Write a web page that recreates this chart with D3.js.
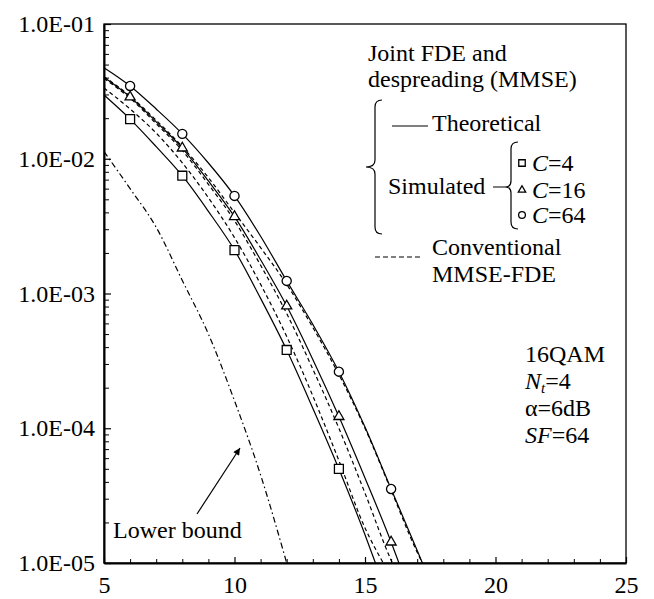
<!doctype html>
<html>
<head>
<meta charset="utf-8">
<title>BER vs average Eb/N0</title>
<script src="https://d3js.org/d3.v7.min.js"></script>
<style>
  body { margin: 0; background: #fff; }
  svg text { font-family: "Liberation Serif", "Times New Roman", serif; font-size: 24px; fill: #000; }
  .curve { fill: none; stroke: #000; stroke-width: 1.2; }
  .mark { fill: #fff; stroke: #000; stroke-width: 1.3; }
</style>
</head>
<body>
<svg width="654" height="599"></svg>
<script>
// ---- data ----
var xTicks = [5, 10, 15, 20, 25];
var yTicks = [1e-5, 1e-4, 1e-3, 1e-2, 1e-1];
var yTickLabels = ["1.0E-05", "1.0E-04", "1.0E-03", "1.0E-02", "1.0E-01"];

// joint FDE and despreading, theoretical (solid)
var theoryC64X = [5, 6, 7, 8, 9, 10, 11, 12, 13, 14, 15, 16, 17, 17.2];
var theoryC64Y = [0.0474, 0.0347, 0.0234, 0.0153, 0.0093, 0.0053, 0.00266, 0.00124, 5.9e-4, 2.63e-4, 1.02e-4, 3.54e-5, 1.24e-5, 1e-5];
var theoryC16X = [5, 6, 7, 8, 9, 10, 11, 12, 13, 14, 15, 16, 16.3];
var theoryC16Y = [0.0402, 0.0287, 0.0188, 0.0120, 0.00684, 0.00372, 0.00178, 8.07e-4, 3.24e-4, 1.22e-4, 4.27e-5, 1.43e-5, 1e-5];
var theoryC4X = [5, 6, 7, 8, 9, 10, 11, 12, 13, 14, 15, 15.4];
var theoryC4Y = [0.0297, 0.0197, 0.0123, 0.00748, 0.00407, 0.0021, 9.2e-4, 3.81e-4, 1.41e-4, 4.99e-5, 1.62e-5, 1e-5];

// simulated (markers)
var simC4X = [6, 8, 10, 12, 14];
var simC4Y = [0.0197, 0.00748, 0.0021, 3.81e-4, 4.99e-5];
var simC16X = [6, 8, 10, 12, 14, 16];
var simC16Y = [0.0287, 0.0120, 0.00372, 8.07e-4, 1.22e-4, 1.43e-5];
var simC64X = [6, 8, 10, 12, 14, 16];
var simC64Y = [0.0347, 0.0153, 0.0053, 0.00124, 2.63e-4, 3.54e-5];

// conventional MMSE-FDE (dashed)
var convC4X = [5, 6, 7, 8, 9, 10, 11, 12, 13, 14, 15, 15.7];
var convC4Y = [0.0335, 0.0234, 0.0155, 0.00933, 0.00513, 0.0026, 0.00117, 4.8e-4, 1.74e-4, 5.75e-5, 1.82e-5, 1e-5];
var convC16X = [5, 6, 7, 8, 9, 10, 11, 12, 13, 14, 15, 16, 16.05];
var convC16Y = [0.0395, 0.0281, 0.0182, 0.0115, 0.00646, 0.00347, 0.00162, 7.1e-4, 2.75e-4, 1.0e-4, 3.3e-5, 1.05e-5, 1e-5];
var convC64X = [5, 6, 7, 8, 9, 10, 11, 12, 13, 14, 15, 16, 17, 17.2];
var convC64Y = [0.0407, 0.0292, 0.0193, 0.0123, 0.00724, 0.00398, 0.00219, 0.00117, 5.6e-4, 2.5e-4, 1.0e-4, 3.47e-5, 1.2e-5, 1e-5];

// lower bound (dash-dot)
var lowerX = [5, 6, 7, 8, 9, 10, 11, 12];
var lowerY = [0.0113, 0.0060, 0.0031, 0.00125, 5.0e-4, 1.6e-4, 4.5e-5, 1.0e-5];

// ---- chart ----
var svg = d3.select("svg"),
    margin = {top: 24, right: 28, bottom: 36, left: 104},
    width = 654 - margin.left - margin.right,
    height = 599 - margin.top - margin.bottom;

var xScale = d3.scaleLinear().domain([5, 25]).range([0, width]),
    yScale = d3.scaleLog().domain([1e-5, 1e-1]).range([height, 0]);

var g = svg.append("g")
    .attr("transform", "translate(" + margin.left + "," + margin.top + ")");

// frame (top/right are thinner)
g.append("rect")
    .attr("width", width)
    .attr("height", height)
    .attr("fill", "none")
    .attr("stroke", "#000")
    .attr("stroke-width", 1.3);

// minor ticks
var xMinor = d3.range(5, 26).filter(function (d) { return d % 5 !== 0; });
var yMinor = yScale.ticks().filter(function (d) { return yTicks.indexOf(d) < 0; });

g.append("g")
    .attr("transform", "translate(0," + height + ")")
    .call(d3.axisBottom(xScale).tickValues(xMinor).tickSize(-4).tickSizeOuter(0).tickFormat(""))
    .call(function (a) { a.select(".domain").remove(); });

g.append("g")
    .call(d3.axisLeft(yScale).tickValues(yMinor).tickSize(-5).tickSizeOuter(0).tickFormat(""))
    .call(function (a) { a.select(".domain").remove(); });

// major ticks + labels
var xAxis = g.append("g")
    .attr("transform", "translate(0," + height + ")")
    .call(d3.axisBottom(xScale).tickValues(xTicks).tickSize(-6).tickSizeOuter(0).tickPadding(13));

var yAxis = g.append("g")
    .call(d3.axisLeft(yScale).tickValues(yTicks).tickSize(-7).tickSizeOuter(0).tickPadding(9)
        .tickFormat(function (d, i) { return yTickLabels[i]; }));

[xAxis, yAxis].forEach(function (a) {
    a.select(".domain").attr("stroke-width", 2);
    a.selectAll(".tick line").attr("stroke-width", 1.2);
    a.selectAll("text").attr("font-size", null).attr("font-family", null);
});
g.selectAll(".tick line").attr("stroke", "#000");

// curves
var line = d3.line()
    .x(function (d) { return xScale(d[0]); })
    .y(function (d) { return yScale(d[1]); })
    .curve(d3.curveMonotoneX);

function pairs(xs, ys) { return xs.map(function (x, i) { return [x, ys[i]]; }); }

var curves = [
    {x: lowerX, y: lowerY, dash: "6,3,1.5,3"},
    {x: convC4X, y: convC4Y, dash: "4,3"},
    {x: convC16X, y: convC16Y, dash: "4,3"},
    {x: convC64X, y: convC64Y, dash: "4,3"},
    {x: theoryC4X, y: theoryC4Y, dash: null},
    {x: theoryC16X, y: theoryC16Y, dash: null},
    {x: theoryC64X, y: theoryC64Y, dash: null}
];

g.selectAll(".curve")
    .data(curves)
    .enter()
    .append("path")
    .attr("class", "curve")
    .attr("d", function (c) { return line(pairs(c.x, c.y)); })
    .attr("stroke-dasharray", function (c) { return c.dash; });

// markers
var sims = [
    {x: simC4X, y: simC4Y, type: d3.symbolSquare, size: 80},
    {x: simC16X, y: simC16Y, type: d3.symbolTriangle, size: 44},
    {x: simC64X, y: simC64Y, type: d3.symbolCircle, size: 66}
];

sims.forEach(function (s) {
    g.selectAll(null)
        .data(pairs(s.x, s.y))
        .enter()
        .append("path")
        .attr("class", "mark")
        .attr("transform", function (d) { return "translate(" + xScale(d[0]) + "," + yScale(d[1]) + ")"; })
        .attr("d", d3.symbol().type(s.type).size(s.size));
});

// ---- legend ----
var leg = svg.append("g");

leg.append("text").attr("x", 368).attr("y", 61).text("Joint FDE and");
leg.append("text").attr("x", 368).attr("y", 87).text("despreading (MMSE)");

leg.append("path")
    .attr("d", "M382,100 Q375,100 375,107 L375,160 Q375,167 366,167 Q375,167 375,174 L375,227 Q375,234 382,234")
    .attr("fill", "none").attr("stroke", "#000").attr("stroke-width", 1.2);

leg.append("line")
    .attr("x1", 392).attr("x2", 428).attr("y1", 126).attr("y2", 126)
    .attr("stroke", "#000").attr("stroke-width", 1.2);
leg.append("text").attr("x", 432).attr("y", 131).text("Theoretical");

leg.append("text").attr("x", 388).attr("y", 194).text("Simulated");
leg.append("path")
    .attr("d", "M518,142 Q511,142 511,149 L511,181 Q511,187 505,187 L493,187 M505,187 Q511,187 511,193 L511,222 Q511,229 518,229")
    .attr("fill", "none").attr("stroke", "#000").attr("stroke-width", 1.2);

var legMarks = [
    {type: d3.symbolSquare, size: 42, y: 163, label: "4"},
    {type: d3.symbolTriangle, size: 24, y: 190, label: "16"},
    {type: d3.symbolCircle, size: 36, y: 215, label: "64"}
];
legMarks.forEach(function (m) {
    leg.append("path")
        .attr("class", "mark")
        .attr("stroke-width", 1.1)
        .attr("transform", "translate(522," + m.y + ")")
        .attr("d", d3.symbol().type(m.type).size(m.size));
    var t = leg.append("text").attr("x", 532).attr("y", m.y + 8);
    t.append("tspan").attr("font-style", "italic").text("C");
    t.append("tspan").text("=" + m.label);
});

leg.append("line")
    .attr("x1", 375).attr("x2", 422).attr("y1", 257).attr("y2", 257)
    .attr("stroke", "#000").attr("stroke-width", 1.2).attr("stroke-dasharray", "5,3");
leg.append("text").attr("x", 432).attr("y", 255).text("Conventional");
leg.append("text").attr("x", 432).attr("y", 282).text("MMSE-FDE");

// parameters block
var par = svg.append("g");
par.append("text").attr("x", 525).attr("y", 362).text("16QAM");
var nt = par.append("text").attr("x", 525).attr("y", 389);
nt.append("tspan").attr("font-style", "italic").text("N");
nt.append("tspan").attr("font-style", "italic").style("font-size", "15px").attr("dy", 4).text("t");
nt.append("tspan").attr("dy", -4).text("=4");
par.append("text").attr("x", 525).attr("y", 416).text("\u03b1=6dB");
var sf = par.append("text").attr("x", 525).attr("y", 443);
sf.append("tspan").attr("font-style", "italic").text("SF");
sf.append("tspan").text("=64");

// lower bound note + arrow
svg.append("defs").append("marker")
    .attr("id", "arrow")
    .attr("viewBox", "0 0 10 10")
    .attr("refX", 10).attr("refY", 5)
    .attr("markerWidth", 10).attr("markerHeight", 7)
    .attr("markerUnits", "userSpaceOnUse")
    .attr("orient", "auto")
    .append("path").attr("d", "M0,0 L10,5 L0,10 Z").attr("fill", "#000");

svg.append("line")
    .attr("x1", 197).attr("y1", 514).attr("x2", 240).attr("y2", 448)
    .attr("stroke", "#000").attr("stroke-width", 1.2)
    .attr("marker-end", "url(#arrow)");
svg.append("text").attr("x", 113).attr("y", 538).text("Lower bound");
</script>
</body>
</html>
